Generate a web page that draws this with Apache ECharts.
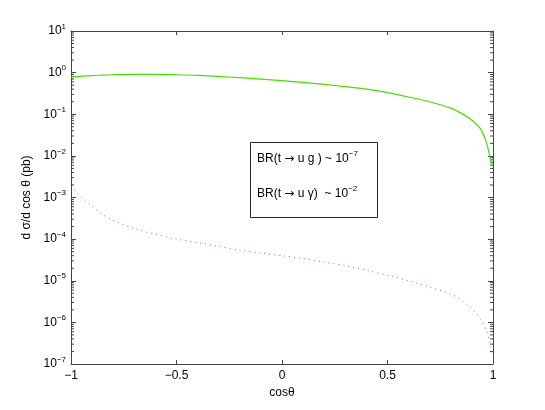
<!DOCTYPE html>
<html>
<head>
<meta charset="utf-8">
<script src="https://cdn.jsdelivr.net/npm/echarts@6/dist/echarts.min.js"></script>
<style>
  html, body { margin: 0; padding: 0; background: #fff; }
  #chart { width: 545px; height: 410px; }
</style>
</head>
<body>
<div id="chart"></div>
<script>
  // cos(theta) sample points
  var cosTheta = [-1, -0.95, -0.9, -0.85, -0.8, -0.7, -0.6, -0.5, -0.4, -0.3, -0.2, -0.1, 0,
    0.1, 0.2, 0.3, 0.4, 0.5, 0.6, 0.7, 0.8, 0.85, 0.9, 0.94, 0.97, 0.99, 1];
  // t -> u g (green, solid)
  var gluonVals = [0.78, 0.82, 0.85, 0.87, 0.89, 0.91, 0.91, 0.89, 0.86, 0.81, 0.76, 0.70, 0.64,
    0.58, 0.52, 0.46, 0.40, 0.33, 0.26, 0.20, 0.14, 0.105, 0.072, 0.045, 0.020, 0.0075, 0.006];
  // t -> u gamma (blue, dotted)
  var photonVals = [1.9e-3, 1.0e-3, 6.2e-4, 3.9e-4, 2.8e-4, 1.8e-4, 1.3e-4, 1.0e-4, 8.2e-5, 6.7e-5, 5.4e-5, 4.6e-5, 4.0e-5,
    3.4e-5, 2.8e-5, 2.3e-5, 1.8e-5, 1.35e-5, 1.0e-5, 7.0e-6, 4.8e-6, 3.4e-6, 2.1e-6, 1.2e-6, 6e-7, 2.5e-7, 1.5e-7];

  var font = 'Liberation Sans, Arial, Helvetica, sans-serif';
  var axisColor = '#444';

  // minor log ticks 2..9 x 10^k
  var minorTicks = [];
  for (var k = -7; k < 1; k++) {
    for (var m = 2; m <= 9; m++) {
      minorTicks.push([-1, m * Math.pow(10, k)]);
    }
  }

  function zip(xs, ys) {
    return xs.map(function (x, i) { return [x, ys[i]]; });
  }

  function expLabel(v) {
    var e = Math.round(Math.log10(v));
    var s = e < 0 ? '\u2212' + (-e) : '' + e;
    return '{b|10}{s|' + s + '}';
  }

  function fmtX(v) {
    if (v < 0) return '\u2212' + (-v);
    return '' + v;
  }

  var supStyle = { fontFamily: font, fontSize: 8, color: '#000', verticalAlign: 'top', padding: [0, 0, 9, 0] };
  var boxRich = {
    t: { fontFamily: font, fontSize: 12, color: '#000' },
    a: { fontFamily: 'DejaVu Sans', fontSize: 12, color: '#000' },
    s: supStyle
  };

  var chart = echarts.init(document.getElementById('chart'));
  var option = {
    animation: false,
    backgroundColor: '#fff',
    grid: { left: 71, right: 52, top: 31, bottom: 46 },
    xAxis: [
      {
        type: 'value', min: -1, max: 1, interval: 0.5,
        name: 'cos\u03b8', nameLocation: 'middle', nameGap: 21,
        nameTextStyle: { fontFamily: font, fontSize: 12, color: '#000' },
        axisLine: { onZero: false, lineStyle: { color: axisColor, width: 1 } },
        axisTick: { inside: true, length: 4, lineStyle: { color: axisColor } },
        axisLabel: { formatter: fmtX, fontFamily: font, fontSize: 12, color: '#000', margin: 6 },
        splitLine: { show: false }
      },
      {
        type: 'value', min: -1, max: 1, interval: 0.5, position: 'top',
        axisLine: { onZero: false, lineStyle: { color: axisColor, width: 1 } },
        axisTick: { inside: true, length: 4, lineStyle: { color: axisColor } },
        axisLabel: { show: false },
        splitLine: { show: false }
      }
    ],
    yAxis: [
      {
        type: 'log', logBase: 10, min: 1e-7, max: 10, interval: 1, position: 'left',
        name: 'd \u03c3/d cos \u03b8 (pb)', nameLocation: 'middle', nameGap: 33, nameRotate: 90,
        nameTextStyle: { fontFamily: font, fontSize: 12, color: '#000' },
        axisLine: { show: true, onZero: false, lineStyle: { color: axisColor, width: 1 } },
        axisTick: { show: true, inside: true, length: 5, lineStyle: { color: axisColor } },
        axisLabel: {
          formatter: expLabel, margin: 5,
          rich: {
            b: { fontFamily: font, fontSize: 12, color: '#000' },
            s: supStyle
          }
        },
        splitLine: { show: false }
      },
      {
        type: 'log', logBase: 10, min: 1e-7, max: 10, interval: 1, position: 'right',
        axisLine: { show: true, onZero: false, lineStyle: { color: axisColor, width: 1 } },
        axisTick: { show: true, inside: true, length: 5, lineStyle: { color: axisColor } },
        axisLabel: { show: false },
        splitLine: { show: false }
      }
    ],
    series: [
      {
        type: 'custom',
        silent: true,
        data: minorTicks,
        renderItem: function (params, api) {
          var v = api.value(1);
          var l = api.coord([-1, v]);
          var r = api.coord([1, v]);
          var st = { stroke: axisColor, lineWidth: 1 };
          return {
            type: 'group',
            children: [
              { type: 'line', shape: { x1: l[0], y1: l[1], x2: l[0] + 3, y2: l[1] }, style: st },
              { type: 'line', shape: { x1: r[0] - 3, y1: r[1], x2: r[0], y2: r[1] }, style: st }
            ]
          };
        }
      },
      {
        name: 'gluon',
        type: 'line',
        data: zip(cosTheta, gluonVals),
        smooth: 0.3,
        showSymbol: false,
        lineStyle: { color: '#44e000', width: 1.2 }
      },
      {
        name: 'photon',
        type: 'line',
        data: zip(cosTheta, photonVals),
        smooth: 0.3,
        showSymbol: false,
        lineStyle: { color: '#5a6cff', width: 1, type: [1, 4] }
      }
    ],
    graphic: [
      {
        type: 'rect',
        shape: { x: 250.5, y: 142.5, width: 127, height: 75 },
        style: { fill: '#fff', stroke: '#222', lineWidth: 1 }
      },
      {
        type: 'text', left: 257, top: 150,
        style: { text: '{t|BR(t }{a|\u2192}{t| u g ) ~ 10}{s|\u22127}', rich: boxRich }
      },
      {
        type: 'text', left: 257, top: 185,
        style: { text: '{t|BR(t }{a|\u2192}{t| u \u03b3)  ~ 10}{s|\u22122}', rich: boxRich }
      }
    ]
  };
  chart.setOption(option);
</script>
</body>
</html>
